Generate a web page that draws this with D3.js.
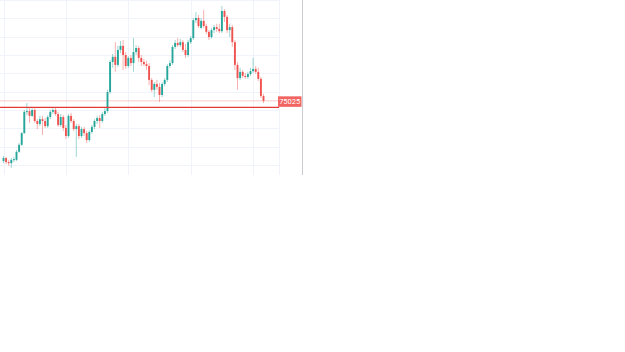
<!DOCTYPE html>
<html>
<head>
<meta charset="utf-8">
<script src="https://cdn.jsdelivr.net/npm/d3@7"></script>
<style>
	html, body { margin: 0; padding: 0; background: #fff; }
	svg { display: block; }
</style>
</head>
<body>
<div id="chart"></div>
<script>
const width = 625;
const height = 352;

// OHLC, one entry per bar (5 min bars)
const open = [
	74861, 74869, 74858, 74855, 74864, 74864, 74886, 74905, 74937, 74995,
	74997, 74984, 75000, 74970, 74962, 74975, 74970, 74956, 74981, 74995,
	75000, 74989, 74959, 74981, 74951, 74929, 74984, 74970, 74948, 74956,
	74929, 74948, 74937, 74918, 74940, 74954, 74970, 74978, 74970, 74989,
	74997, 75049, 75131, 75145, 75123, 75164, 75175, 75150, 75120, 75142,
	75128, 75158, 75169, 75142, 75131, 75125, 75120, 75082, 75055, 75071,
	75063, 75041, 75071, 75082, 75120, 75128, 75172, 75183, 75177, 75185,
	75164, 75150, 75185, 75196, 75245, 75251, 75224, 75243, 75229, 75213,
	75199, 75218, 75226, 75221, 75215, 75270, 75254, 75218, 75226, 75185,
	75123, 75087, 75104, 75093, 75090, 75098, 75106, 75112, 75104, 75085,
	75038,
];
const high = [
	74875, 74872, 74864, 74869, 74872, 74891, 74910, 74940, 75000, 75019,
	75005, 75008, 75005, 74975, 74984, 74984, 74978, 74986, 75000, 75005,
	75008, 74995, 74989, 74986, 74959, 74989, 74992, 74975, 74962, 74962,
	74954, 74954, 74943, 74945, 74959, 74975, 74984, 74986, 74995, 75005,
	75055, 75136, 75153, 75185, 75175, 75188, 75191, 75158, 75147, 75150,
	75196, 75177, 75175, 75150, 75139, 75134, 75128, 75087, 75076, 75082,
	75074, 75076, 75087, 75125, 75136, 75177, 75191, 75196, 75194, 75191,
	75180, 75191, 75202, 75251, 75267, 75259, 75251, 75273, 75235, 75218,
	75224, 75232, 75235, 75235, 75284, 75275, 75259, 75235, 75232, 75191,
	75131, 75115, 75109, 75101, 75104, 75115, 75142, 75120, 75115, 75090,
	75044,
];
const low = [
	74855, 74853, 74847, 74842, 74858, 74861, 74883, 74902, 74935, 74986,
	74965, 74981, 74965, 74948, 74956, 74932, 74951, 74951, 74975, 74989,
	74984, 74954, 74954, 74943, 74921, 74924, 74965, 74943, 74872, 74921,
	74924, 74929, 74910, 74913, 74935, 74948, 74962, 74951, 74965, 74984,
	74992, 75044, 75115, 75104, 75117, 75155, 75109, 75112, 75115, 75120,
	75104, 75150, 75131, 75120, 75120, 75109, 75068, 75049, 75035, 75055,
	75022, 75035, 75065, 75076, 75115, 75123, 75166, 75172, 75172, 75158,
	75142, 75145, 75180, 75191, 75237, 75224, 75221, 75224, 75207, 75191,
	75194, 75210, 75213, 75210, 75210, 75240, 75210, 75199, 75172, 75109,
	75055, 75082, 75087, 75085, 75085, 75093, 75101, 75098, 75079, 75033,
	75019,
];
const close = [
	74869, 74858, 74855, 74864, 74866, 74886, 74905, 74937, 74995, 74997,
	74984, 75000, 74970, 74962, 74975, 74970, 74956, 74981, 74995, 75000,
	74989, 74959, 74981, 74951, 74929, 74984, 74970, 74948, 74956, 74929,
	74948, 74937, 74918, 74940, 74954, 74970, 74978, 74970, 74989, 74997,
	75049, 75131, 75145, 75123, 75164, 75175, 75150, 75120, 75142, 75128,
	75158, 75169, 75142, 75131, 75125, 75120, 75082, 75055, 75071, 75063,
	75041, 75071, 75082, 75120, 75128, 75172, 75183, 75177, 75185, 75164,
	75150, 75185, 75196, 75245, 75251, 75229, 75243, 75229, 75213, 75199,
	75218, 75226, 75221, 75215, 75270, 75254, 75218, 75226, 75185, 75123,
	75087, 75104, 75093, 75090, 75098, 75106, 75112, 75104, 75085, 75038,
	75025,
];

const timeGrid = [0, 24, 48, 72, 96]; // every 2h
const levelLine = 75007; // drawn support line

const upColor = "#26a69a";
const downColor = "#ef5350";

const plotW = 279;
const plotH = 176;

const svg = d3
	.select("#chart")
	.append("svg")
	.attr("width", width)
	.attr("height", height);

const bars = close.map((c, i) => ({ i, o: open[i], h: high[i], l: low[i], c }));

const x = d3.scaleLinear().domain([0, 106]).range([3.5, plotW + 0.1]);
const y = d3.scaleLinear().domain([74820, 75300]).range([plotH, 0]);

// grid
svg
	.append("g")
	.selectAll("line")
	.data(y.ticks(10))
	.join("line")
	.attr("x1", 0)
	.attr("x2", plotW)
	.attr("y1", d => Math.round(y(d)) + 0.5)
	.attr("y2", d => Math.round(y(d)) + 0.5)
	.attr("stroke", "#f0f3fa");

svg
	.append("g")
	.selectAll("line")
	.data(timeGrid)
	.join("line")
	.attr("x1", d => Math.round(x(d)) + 0.5)
	.attr("x2", d => Math.round(x(d)) + 0.5)
	.attr("y1", 0)
	.attr("y2", 175)
	.attr("stroke", "#f0f3fa");

// price scale edges
svg.append("line")
	.attr("x1", plotW + 0.5).attr("x2", plotW + 0.5)
	.attr("y1", 0).attr("y2", 175)
	.attr("stroke", "#f0f3fa");

svg.append("line")
	.attr("x1", 302.5).attr("x2", 302.5)
	.attr("y1", 0).attr("y2", 175)
	.attr("stroke", "#c8cbd2");

// last price line (faint)
const lastY = y(close[close.length - 1]);
svg.append("line")
	.attr("x1", 0).attr("x2", plotW)
	.attr("y1", lastY).attr("y2", lastY)
	.attr("stroke", downColor)
	.attr("stroke-opacity", 0.3);

// candles
const g = svg.append("g");

g.selectAll("line.wick")
	.data(bars)
	.join("line")
	.attr("class", "wick")
	.attr("x1", d => x(d.i))
	.attr("x2", d => x(d.i))
	.attr("y1", d => y(d.h))
	.attr("y2", d => y(d.l))
	.attr("stroke", d => (d.c >= d.o ? upColor : downColor))
	.attr("stroke-opacity", 0.45)
	.attr("stroke-width", 1);

g.selectAll("rect.body")
	.data(bars)
	.join("rect")
	.attr("class", "body")
	.attr("x", d => x(d.i) - 0.95)
	.attr("width", 1.9)
	.attr("y", d => y(Math.max(d.o, d.c)))
	.attr("height", d => Math.max(1, Math.abs(y(d.o) - y(d.c))))
	.attr("fill", d => (d.c >= d.o ? upColor : downColor));

// horizontal level
svg.append("line")
	.attr("x1", 0).attr("x2", plotW)
	.attr("y1", y(levelLine)).attr("y2", y(levelLine))
	.attr("stroke", "#e53935")
	.attr("stroke-width", 1.2);

// last price tag
svg.append("rect")
	.attr("x", 278)
	.attr("y", lastY - 4.5)
	.attr("width", 23.5)
	.attr("height", 10.5)
	.attr("fill", downColor)
	.attr("fill-opacity", 0.9);

svg.append("text")
	.attr("x", 289.7)
	.attr("y", lastY + 0.9)
	.attr("text-anchor", "middle")
	.attr("dominant-baseline", "middle")
	.attr("font-family", "Roboto, sans-serif")
	.attr("font-size", 7.5)
	.attr("fill", "#fff")
	.text(close[close.length - 1]);
</script>
</body>
</html>
